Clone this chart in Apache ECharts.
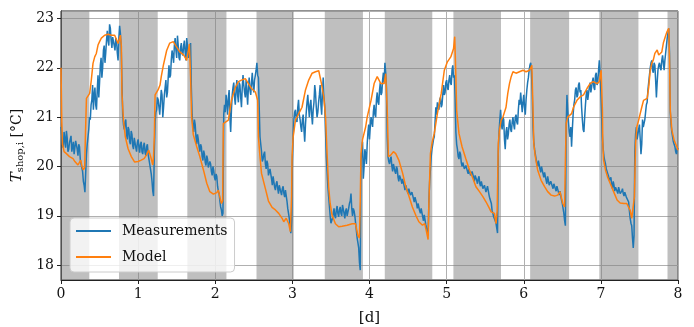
<!DOCTYPE html>
<html><head><meta charset="utf-8">
<script src="https://cdn.jsdelivr.net/npm/echarts@6/dist/echarts.min.js"></script>
<style>html,body{margin:0;padding:0;background:#fff}#c{width:694px;height:327px}</style>
</head><body><div id="c"></div>
<script>
// Shaded periods [d]
const bandStart = [0, 0.752, 1.638, 2.535, 3.42, 4.198, 5.088, 6.083, 6.98, 7.864];
const bandEnd   = [0.367, 1.254, 2.145, 3.018, 3.915, 4.814, 5.705, 6.588, 7.487, 8];

// Measurements, sampled every 0.01 d: even samples (t = 0, 0.02, ... 8.00)
const measStep = 0.01;
const measurementsEven = [
20.80,20.45,20.70,20.38,20.58,20.35,20.55,20.30,20.50,20.28,
20.48,20.22,20.40,20.05,19.90,19.62,19.50,20.45,20.75,20.95,
21.35,21.15,21.60,21.15,21.85,21.70,22.20,22.00,22.45,22.30,
22.75,22.45,22.80,22.40,22.65,22.35,22.55,22.15,22.85,22.45,
21.05,20.75,20.95,20.55,20.75,20.45,20.65,20.35,20.60,20.30,
20.55,20.28,20.50,20.25,20.48,20.22,20.45,20.15,19.95,19.70,
19.40,20.90,21.15,21.35,21.05,21.55,21.00,21.45,21.75,21.50,
22.05,21.85,22.35,22.10,22.60,22.20,22.45,22.15,22.50,22.25,
22.55,22.15,22.45,22.25,22.50,21.05,20.70,20.85,20.45,20.55,
20.30,20.40,20.12,20.25,20.02,20.15,19.95,20.05,19.82,19.92,
19.72,19.80,19.50,19.30,19.12,19.05,21.25,21.45,21.05,21.55,
20.70,21.45,21.70,21.25,21.75,21.30,21.65,21.20,21.85,21.50,
21.75,21.25,21.80,21.45,21.90,21.50,21.85,22.10,21.80,20.60,
20.30,20.15,20.30,19.95,20.05,19.85,19.98,19.62,19.78,19.52,
19.70,19.45,19.65,19.42,19.60,19.38,19.50,19.15,18.95,18.65,
20.10,20.95,21.15,20.90,21.35,20.95,20.70,21.05,20.50,21.10,
21.45,21.00,21.35,20.85,21.30,21.50,21.00,21.30,21.65,21.05,
21.80,21.20,20.20,19.60,19.20,18.85,18.95,19.15,18.95,19.20,
18.98,19.18,19.00,19.20,18.95,19.15,19.02,19.25,19.45,19.00,
19.10,18.85,18.55,18.35,17.90,20.30,19.75,20.35,20.05,20.70,
20.55,21.00,20.80,21.25,21.00,21.50,21.25,21.70,21.50,21.90,
22.10,21.60,20.20,20.05,20.20,19.90,20.05,19.85,19.95,19.70,
19.85,19.65,19.78,19.52,19.65,19.45,19.58,19.38,19.50,19.28,
19.40,19.15,19.28,19.05,19.18,18.90,19.00,18.75,18.60,19.70,
20.20,20.45,20.60,21.20,21.30,21.15,21.40,21.25,21.65,21.50,
21.75,21.55,21.85,21.65,22.05,21.85,20.70,20.35,20.15,20.25,
20.00,20.10,19.92,20.05,19.85,19.98,19.80,19.92,19.70,19.85,
19.65,19.80,19.60,19.72,19.52,19.65,19.50,19.58,19.35,19.25,
19.05,18.95,18.85,18.65,20.70,21.15,20.75,20.95,20.35,20.80,
20.65,20.95,20.70,21.00,20.75,21.05,20.85,21.35,21.50,21.10,
21.45,21.05,21.55,21.80,22.05,21.90,20.80,20.35,20.15,20.00,
20.10,19.88,19.98,19.78,19.90,19.65,19.78,19.58,19.72,19.55,
19.68,19.50,19.62,19.42,19.48,19.25,19.05,18.80,21.45,20.90,
20.60,20.40,21.05,21.35,21.60,21.45,21.70,21.55,20.95,20.70,
21.25,21.55,21.35,21.70,21.50,21.80,21.55,21.90,21.70,22.15,
21.50,20.60,20.20,20.05,19.90,19.80,19.70,19.62,19.70,19.50,
19.60,19.45,19.55,19.42,19.55,19.40,19.50,19.35,19.28,18.95,
18.80,18.35,20.30,20.80,20.65,20.85,20.25,20.95,20.80,21.10,
21.30,21.70,22.00,22.15,21.90,22.05,21.40,21.95,22.10,21.95,
22.25,21.95,22.30,22.60,22.80,21.10,20.70,20.50,20.40,20.25,
20.35
];
// odd samples (t = 0.01, 0.03, ... 7.99)
const measurementsOdd = [
20.62,20.38,20.55,20.72,20.30,20.48,20.62,20.40,20.25,20.52,
20.35,20.45,20.15,20.08,19.70,19.48,20.25,20.60,21.00,21.25,
21.65,21.45,21.25,21.55,21.40,22.05,21.80,22.35,22.10,22.55,
22.55,22.88,22.55,22.62,22.45,22.60,22.30,22.60,22.70,21.70,
20.85,20.90,20.65,20.80,20.50,20.72,20.42,20.58,20.38,20.48,
20.40,20.45,20.30,20.42,20.28,20.40,20.25,20.05,19.85,19.50,
20.30,21.10,21.40,21.20,21.30,21.45,21.20,21.60,21.40,21.80,
21.80,22.15,22.25,22.45,22.35,22.65,22.20,22.40,22.30,22.45,
22.30,22.60,22.20,22.40,21.60,20.80,20.95,20.60,20.65,20.40,
20.45,20.20,20.32,20.08,20.22,19.98,20.10,19.90,20.00,19.78,
19.85,19.60,19.45,19.18,19.00,21.05,21.10,21.30,21.40,21.00,
21.15,21.60,21.40,21.55,21.45,21.70,21.40,21.60,21.65,21.40,
21.50,21.60,21.55,21.70,21.65,21.75,21.95,21.85,21.20,20.45,
20.10,20.25,20.05,20.12,19.82,19.95,19.75,19.80,19.58,19.65,
19.55,19.62,19.48,19.55,19.45,19.52,19.30,19.05,18.80,18.90,
20.60,21.10,20.95,21.20,21.05,20.80,20.95,20.75,20.85,21.30,
21.20,21.25,21.05,21.15,21.65,21.20,21.10,21.45,21.25,21.50,
21.40,20.70,19.90,19.40,19.00,18.82,19.05,19.00,19.12,19.05,
19.12,19.05,19.22,19.05,19.10,19.00,19.15,19.30,19.15,19.15,
19.00,18.70,18.45,18.05,20.10,20.50,20.00,20.25,20.45,20.85,
20.80,20.90,21.10,21.05,21.35,21.30,21.55,21.45,21.75,21.70,
21.90,20.60,20.10,20.15,20.00,20.05,19.90,20.00,19.78,19.82,
19.72,19.75,19.60,19.62,19.50,19.55,19.42,19.48,19.35,19.38,
19.25,19.25,19.10,19.15,18.98,19.02,18.82,18.68,19.30,19.95,
20.35,20.55,20.90,21.05,21.20,21.35,21.20,21.45,21.45,21.70,
21.60,21.75,21.70,21.95,21.80,21.40,20.45,20.20,20.30,20.08,
20.08,19.95,20.02,19.90,19.95,19.82,19.90,19.78,19.82,19.72,
19.75,19.65,19.70,19.55,19.62,19.48,19.60,19.42,19.30,19.10,
18.98,18.90,18.75,20.30,20.95,20.85,21.00,20.55,20.70,20.55,
20.85,20.75,20.90,20.85,21.00,20.90,21.15,21.25,21.30,21.30,
21.20,21.35,21.70,21.95,22.10,21.50,20.50,20.25,20.05,20.12,
19.95,20.00,19.85,19.88,19.72,19.80,19.62,19.70,19.60,19.65,
19.55,19.60,19.48,19.50,19.32,19.15,18.90,20.80,21.15,20.70,
20.80,20.75,21.25,21.55,21.40,21.65,21.50,21.20,20.75,21.00,
21.45,21.35,21.60,21.50,21.72,21.60,21.85,21.65,21.95,21.90,
21.00,20.35,20.12,19.95,19.85,19.72,19.78,19.55,19.62,19.58,
19.50,19.58,19.45,19.50,19.45,19.48,19.38,19.42,19.10,18.85,
18.55,18.60,20.65,20.55,20.75,20.55,20.45,20.80,20.95,21.25,
21.55,21.85,22.10,21.95,22.10,21.75,21.70,22.05,22.00,22.15,
22.10,22.15,22.45,22.70,22.30,20.85,20.60,20.45,20.30,20.38
];

// Model output [time d, temperature °C]
const modelPoints = [
[0,22.0],[0.01,20.9],[0.02,20.45],[0.04,20.3],[0.07,20.26],[0.11,20.2],[0.156,20.16],[0.18,20.1],[0.2,20.06],[0.22,20.03],
[0.242,20.05],[0.255,20.13],[0.272,20.0],[0.29,19.93],[0.307,19.98],[0.316,20.6],[0.33,21.38],[0.35,21.41],[0.372,21.48],[0.393,21.75],
[0.415,22.09],[0.437,22.22],[0.458,22.29],[0.48,22.46],[0.5,22.53],[0.523,22.6],[0.566,22.66],[0.61,22.68],[0.653,22.66],[0.696,22.66],
[0.718,22.63],[0.74,22.49],[0.757,22.52],[0.77,22.66],[0.783,22.43],[0.79,21.48],[0.81,20.94],[0.834,20.6],[0.87,20.36],[0.912,20.2],
[0.955,20.09],[1.0,20.1],[1.04,20.13],[1.077,20.16],[1.107,20.23],[1.137,20.33],[1.163,20.2],[1.19,20.03],[1.2,20.2],[1.21,20.6],
[1.22,21.45],[1.258,21.55],[1.284,21.65],[1.3,21.82],[1.327,22.05],[1.37,22.35],[1.41,22.5],[1.456,22.53],[1.5,22.42],[1.54,22.32],
[1.59,22.26],[1.63,22.15],[1.65,22.12],[1.665,22.48],[1.68,21.82],[1.694,21.0],[1.716,20.64],[1.76,20.4],[1.8,20.2],[1.847,19.93],
[1.89,19.66],[1.93,19.49],[1.976,19.44],[2.02,19.47],[2.04,19.52],[2.06,19.38],[2.08,19.25],[2.096,19.3],[2.105,20.87],[2.13,20.87],
[2.17,20.94],[2.19,21.14],[2.21,21.34],[2.26,21.6],[2.3,21.72],[2.34,21.75],[2.39,21.78],[2.43,21.68],[2.47,21.58],[2.52,21.51],
[2.54,21.51],[2.55,21.34],[2.56,20.6],[2.58,20.2],[2.6,19.86],[2.65,19.55],[2.69,19.3],[2.737,19.17],[2.78,19.12],[2.823,19.05],
[2.867,18.95],[2.888,18.88],[2.92,18.95],[2.953,18.84],[2.974,18.68],[2.99,19.4],[2.996,20.2],[3.01,20.6],[3.04,20.94],[3.083,21.07],
[3.125,21.2],[3.17,21.55],[3.212,21.75],[3.256,21.89],[3.3,21.92],[3.342,21.94],[3.377,21.68],[3.407,21.41],[3.43,21.0],[3.45,20.26],
[3.47,19.59],[3.49,19.25],[3.515,19.01],[3.558,18.84],[3.6,18.78],[3.645,18.79],[3.71,18.81],[3.775,18.84],[3.818,18.84],[3.85,18.6],
[3.87,18.55],[3.88,19.3],[3.89,20.26],[3.91,20.55],[3.95,20.8],[3.97,21.0],[4.02,21.34],[4.06,21.68],[4.1,21.82],[4.125,21.8],
[4.147,21.68],[4.17,21.65],[4.19,21.68],[4.21,21.88],[4.23,21.14],[4.245,20.2],[4.275,20.23],[4.31,20.3],[4.34,20.26],[4.38,20.13],
[4.43,19.86],[4.47,19.59],[4.513,19.39],[4.556,19.18],[4.6,19.01],[4.64,18.88],[4.687,18.81],[4.717,18.84],[4.735,18.71],[4.76,18.52],
[4.77,19.25],[4.79,20.26],[4.81,20.47],[4.84,20.67],[4.88,21.07],[4.93,21.48],[4.97,21.95],[5.01,22.12],[5.054,22.22],[5.09,22.39],
[5.105,22.63],[5.12,21.82],[5.13,21.14],[5.16,20.67],[5.2,20.4],[5.25,20.15],[5.296,19.93],[5.34,19.76],[5.38,19.59],[5.426,19.49],
[5.47,19.39],[5.512,19.28],[5.555,19.15],[5.577,19.08],[5.6,19.1],[5.62,19.05],[5.64,18.84],[5.655,19.1],[5.67,20.47],[5.685,20.74],
[5.707,20.94],[5.73,21.0],[5.75,21.02],[5.77,21.2],[5.793,21.48],[5.815,21.68],[5.837,21.82],[5.86,21.92],[5.88,21.95],[5.9,21.89],
[5.92,21.89],[5.945,21.92],[5.99,21.95],[6.03,21.92],[6.075,21.95],[6.105,22.05],[6.12,21.14],[6.13,20.47],[6.15,20.2],[6.18,19.93],
[6.225,19.72],[6.27,19.59],[6.31,19.49],[6.355,19.42],[6.4,19.4],[6.44,19.42],[6.47,19.49],[6.485,19.39],[6.506,19.25],[6.53,19.18],
[6.54,20.13],[6.55,20.87],[6.57,21.0],[6.62,21.07],[6.645,21.2],[6.69,21.34],[6.73,21.41],[6.775,21.45],[6.82,21.58],[6.86,21.68],
[6.9,21.72],[6.95,21.68],[6.98,21.72],[7.003,21.95],[7.02,21.14],[7.025,20.47],[7.035,20.13],[7.06,19.93],[7.086,19.79],[7.12,19.66],
[7.165,19.49],[7.21,19.32],[7.25,19.26],[7.3,19.25],[7.336,19.25],[7.36,19.28],[7.38,19.11],[7.4,18.95],[7.42,18.91],[7.435,19.39],
[7.45,20.47],[7.466,20.8],[7.49,20.94],[7.51,21.07],[7.53,21.2],[7.553,21.34],[7.6,21.38],[7.62,21.6],[7.64,21.95],[7.66,22.09],
[7.68,22.16],[7.7,22.29],[7.73,22.36],[7.75,22.26],[7.77,22.26],[7.79,22.32],[7.81,22.5],[7.835,22.63],[7.857,22.73],[7.88,22.8],
[7.89,22.16],[7.9,21.14],[7.92,20.74],[7.95,20.53],[7.985,20.4],[8.0,20.33]
];

const xMin = 0, xMax = 8, xStep = 1;
const yMin = 17.7, yMax = 23.15;

const FONT = 'DejaVu Serif';
const measData = [];
measurementsEven.forEach((v, i) => {
  measData.push([+(2 * i * measStep).toFixed(3), v]);
  if (i < measurementsOdd.length) measData.push([+((2 * i + 1) * measStep).toFixed(3), measurementsOdd[i]]);
});
const bandData = bandStart.map((s, i) => [{xAxis: s}, {xAxis: bandEnd[i]}]);

const chart = echarts.init(document.getElementById('c'), null, {renderer: 'canvas'});
chart.setOption({
  animation: false,
  backgroundColor: '#fff',
  grid: {left: 61, right: 16, top: 11, bottom: 47, containLabel: false, outerBoundsMode: 'none',
         show: true, borderColor: '#222', borderWidth: 1, backgroundColor: 'transparent'},
  legend: {
    left: 70, top: 218, orient: 'vertical',
    icon: 'rect', itemWidth: 35, itemHeight: 2, itemGap: 10,
    padding: [5, 7, 7, 6],
    backgroundColor: 'rgba(255,255,255,0.8)', borderColor: '#cccccc', borderWidth: 1, borderRadius: 4,
    textStyle: {fontFamily: FONT, fontSize: 14, lineHeight: 16, color: '#111', padding: [0, 0, 0, 6]},
    data: ['Measurements', 'Model']
  },
  xAxis: {
    type: 'value', min: xMin, max: xMax, interval: xStep,
    name: '[d]', nameLocation: 'middle', nameGap: 31,
    nameTextStyle: {fontFamily: FONT, fontSize: 15, color: '#111'},
    axisLine: {show: true, onZero: false, lineStyle: {color: '#222', width: 1}},
    axisTick: {show: true, length: 4, lineStyle: {color: '#222'}},
    axisLabel: {fontFamily: FONT, fontSize: 14, color: '#111', margin: 7},
    splitLine: {show: true, lineStyle: {color: '#b0b0b0', width: 1}}
  },
  yAxis: {
    type: 'value', min: yMin, max: yMax, minInterval: 1, maxInterval: 1,
    name: '{t|T}{s|shop,i} [°C]', nameLocation: 'middle', nameGap: 31, nameRotate: 90,
    nameTextStyle: {fontFamily: FONT, fontSize: 14, color: '#111',
      rich: {
        t: {fontFamily: FONT, fontStyle: 'italic', fontSize: 15, color: '#111'},
        s: {fontFamily: FONT, fontSize: 10, color: '#111', padding: [6, 0, 0, 0]}
      }},
    axisLine: {show: true, lineStyle: {color: '#222', width: 1}},
    axisTick: {show: true, length: 4, lineStyle: {color: '#222'}},
    axisLabel: {fontFamily: FONT, fontSize: 14, color: '#111', margin: 7, showMinLabel: false, showMaxLabel: false},
    splitLine: {show: true, lineStyle: {color: '#b0b0b0', width: 1}}
  },
  series: [
    {
      name: 'bands', type: 'line', data: [], z: 1, silent: true,
      markArea: {silent: true, itemStyle: {color: 'rgba(128,128,128,0.5)'}, data: bandData}
    },
    {
      name: 'Measurements', type: 'line', data: measData, symbol: 'none', z: 3,
      lineStyle: {color: '#1f77b4', width: 1.5}, itemStyle: {color: '#1f77b4'}
    },
    {
      name: 'Model', type: 'line', data: modelPoints, symbol: 'none', z: 4,
      lineStyle: {color: '#ff7f0e', width: 1.5}, itemStyle: {color: '#ff7f0e'}
    }
  ]
});
</script>
</body></html>
